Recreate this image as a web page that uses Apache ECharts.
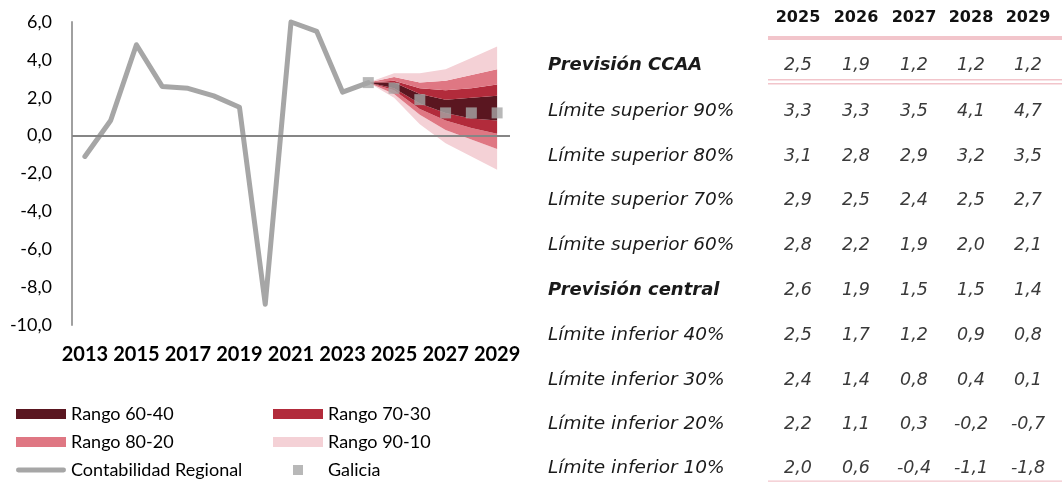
<!DOCTYPE html>
<html>
<head>
<meta charset="utf-8">
<title>Previsión PIB Galicia</title>
<script src="https://cdn.jsdelivr.net/npm/echarts@6/dist/echarts.min.js"></script>
<style>
  html, body { margin: 0; padding: 0; background: #fff; }
  #chart { width: 1062px; height: 482px; }
</style>
</head>
<body>
<div id="chart"></div>
<script>
// categorías del eje X
const years = ['2013', '2014', '2015', '2016', '2017', '2018', '2019', '2020',
  '2021', '2022', '2023', '2024', '2025', '2026', '2027', '2028', '2029'];

// Contabilidad Regional (2013-2024)
const regional = [-1.1, 0.8, 4.8, 2.6, 2.5, 2.1, 1.5, -8.9, 6.0, 5.5, 2.3, 2.8];
// punto de partida del abanico y de Galicia (2024)
const fanAnchor = 2.8;

// tabla de previsiones 2025-2029
const tableYears = ['2025', '2026', '2027', '2028', '2029'];
const ccaaForecast = [2.5, 1.9, 1.2, 1.2, 1.2];
const upper90 = [3.3, 3.3, 3.5, 4.1, 4.7];
const upper80 = [3.1, 2.8, 2.9, 3.2, 3.5];
const upper70 = [2.9, 2.5, 2.4, 2.5, 2.7];
const upper60 = [2.8, 2.2, 1.9, 2.0, 2.1];
const central = [2.6, 1.9, 1.5, 1.5, 1.4];
const lower40 = [2.5, 1.7, 1.2, 0.9, 0.8];
const lower30 = [2.4, 1.4, 0.8, 0.4, 0.1];
const lower20 = [2.2, 1.1, 0.3, -0.2, -0.7];
const lower10 = [2.0, 0.6, -0.4, -1.1, -1.8];

const yTicks = { min: -10, max: 6, interval: 2 };

const colors = {
  r6040: '#5a1620',
  r7030: '#b22b3b',
  r8020: '#df7783',
  r9010: '#f4d1d6',
  grey: '#a6a6a6',
  pinkLine: '#f2c5cb'
};

const anchorIdx = years.indexOf('2024');

// serie del abanico sobre todo el eje (vacío antes de 2024)
const fanSeries = arr => years.map((y, i) =>
  i < anchorIdx ? '-' : i === anchorIdx ? fanAnchor : arr[i - anchorIdx - 1]);
const diff = (a, b) => a.map((v, i) => v === '-' ? '-' : +(v - b[i]).toFixed(2));

const f10 = fanSeries(lower10), f20 = fanSeries(lower20), f30 = fanSeries(lower30),
  f40 = fanSeries(lower40), f60 = fanSeries(upper60), f70 = fanSeries(upper70),
  f80 = fanSeries(upper80), f90 = fanSeries(upper90);

const regionalData = years.map((y, i) => i < regional.length ? regional[i] : '-');
const galiciaData = fanSeries(ccaaForecast);

const bands = [
  { name: 'Rango 90-10', data: diff(f20, f10), color: colors.r9010 },
  { name: 'Rango 80-20', data: diff(f30, f20), color: colors.r8020 },
  { name: 'Rango 70-30', data: diff(f40, f30), color: colors.r7030 },
  { name: 'Rango 60-40', data: diff(f60, f40), color: colors.r6040 },
  { name: 'Rango 70-30', data: diff(f70, f60), color: colors.r7030 },
  { name: 'Rango 80-20', data: diff(f80, f70), color: colors.r8020 },
  { name: 'Rango 90-10', data: diff(f90, f80), color: colors.r9010 }
];

const fmt = v => v.toFixed(1).replace('.', ',');

const series = [
  {
    name: 'base',
    type: 'line',
    stack: 'fan',
    stackStrategy: 'all',
    data: f10,
    symbol: 'none',
    lineStyle: { opacity: 0 },
    silent: true
  },
  ...bands.map(b => ({
    name: b.name,
    type: 'line',
    stack: 'fan',
    stackStrategy: 'all',
    data: b.data,
    color: b.color,
    symbol: 'none',
    lineStyle: { opacity: 0, width: 0 },
    areaStyle: { color: b.color, opacity: 1 },
    silent: true
  })),
  {
    name: 'Contabilidad Regional',
    type: 'line',
    data: regionalData,
    color: colors.grey,
    symbol: 'none',
    clip: false,
    lineStyle: { width: 5, color: colors.grey, cap: 'round', join: 'round' },
    markLine: {
      silent: true,
      symbol: ['none', 'none'],
      label: { show: false },
      lineStyle: { color: '#868686', width: 2, type: 'solid' },
      data: [{ yAxis: 0 }]
    },
    z: 3
  },
  {
    name: 'Galicia',
    type: 'scatter',
    data: galiciaData,
    color: colors.grey,
    symbol: 'rect',
    symbolSize: 11,
    itemStyle: { color: colors.grey },
    z: 6
  }
];

// leyenda: una por elemento para colocar cada uno en su sitio
const legendText = { fontFamily: 'Lato', fontSize: 18, color: '#000', lineHeight: 20 };
// cuadrado centrado en una caja de 50x10
const squareIcon = 'path://M0,0M50,10M20,0L30,0L30,10L20,10Z';
const lineIcon = 'path://M2.5,0L49.5,0A2.5,2.5 0 0 1 49.5,5L2.5,5A2.5,2.5 0 0 1 2.5,0Z';
const legendAt = (name, left, centerY, icon, color) => ({
  data: [{ name, icon, itemStyle: { color } }],
  left, top: centerY - 10,
  itemWidth: 50, itemHeight: 10, itemGap: 0,
  padding: 0,
  selectedMode: false,
  textStyle: legendText
});
const legend = [
  legendAt('Rango 60-40', 16, 414, 'rect', colors.r6040),
  legendAt('Rango 70-30', 273, 414, 'rect', colors.r7030),
  legendAt('Rango 80-20', 16, 442, 'rect', colors.r8020),
  legendAt('Rango 90-10', 273, 442, 'rect', colors.r9010),
  legendAt('Contabilidad Regional', 16, 470, lineIcon, colors.grey),
  legendAt('Galicia', 273, 470, squareIcon, colors.grey)
];

// tabla de la derecha
const rowLabels = [
  { text: 'Previsión CCAA', values: ccaaForecast, bold: true },
  { text: 'Límite superior 90%', values: upper90 },
  { text: 'Límite superior 80%', values: upper80 },
  { text: 'Límite superior 70%', values: upper70 },
  { text: 'Límite superior 60%', values: upper60 },
  { text: 'Previsión central', values: central, bold: true },
  { text: 'Límite inferior 40%', values: lower40 },
  { text: 'Límite inferior 30%', values: lower30 },
  { text: 'Límite inferior 20%', values: lower20 },
  { text: 'Límite inferior 10%', values: lower10 }
];
const colX = [798, 856, 914, 971, 1028];
const rowY = [65, 111, 156, 200, 245, 290, 335, 380, 424, 468];
const tableFont = '"DejaVu Sans", sans-serif';

const graphic = [];
tableYears.forEach((y, j) => {
  graphic.push({
    type: 'text', x: colX[j], y: 18,
    style: { text: y, font: 'bold 16px ' + tableFont, fill: '#111', align: 'center', verticalAlign: 'middle' }
  });
});
rowLabels.forEach((row, i) => {
  graphic.push({
    type: 'text', x: 548, y: rowY[i],
    style: {
      text: row.text,
      font: (row.bold ? 'italic bold 18px ' : 'italic 18.5px ') + tableFont,
      fill: '#1a1a1a', align: 'left', verticalAlign: 'middle'
    }
  });
  row.values.forEach((v, j) => {
    graphic.push({
      type: 'text', x: colX[j], y: rowY[i],
      style: { text: fmt(v), font: 'italic 17.5px ' + tableFont, fill: '#3a3a3a', align: 'center', verticalAlign: 'middle' }
    });
  });
});
// líneas rosas de la tabla
[[36, 4], [79, 1.5], [83, 1.5], [480.5, 1.2]].forEach(([y, h]) => {
  graphic.push({
    type: 'rect', shape: { x: 768, y: y, width: 294, height: h },
    style: { fill: colors.pinkLine }, silent: true
  });
});

const chart = echarts.init(document.getElementById('chart'));
chart.setOption({
  animation: false,
  backgroundColor: '#fff',
  grid: { left: 72, right: 552, top: 22, bottom: 157, containLabel: false },
  xAxis: {
    type: 'category',
    data: years,
    boundaryGap: true,
    axisLine: { show: false, onZero: false },
    axisTick: { show: false },
    splitLine: { show: false },
    axisLabel: {
      interval: 1,
      margin: 20,
      color: '#000',
      fontFamily: 'Lato',
      fontWeight: 'bold',
      fontSize: 20
    }
  },
  yAxis: {
    type: 'value',
    min: yTicks.min,
    max: yTicks.max,
    interval: yTicks.interval,
    axisLine: { show: true, lineStyle: { color: '#a0a0a0', width: 2 } },
    axisTick: { show: false },
    splitLine: { show: false },
    axisLabel: {
      margin: 20,
      color: '#000',
      fontFamily: 'Lato',
      fontSize: 18,
      formatter: v => fmt(v)
    }
  },
  legend,
  graphic,
  series
});
</script>
</body>
</html>
